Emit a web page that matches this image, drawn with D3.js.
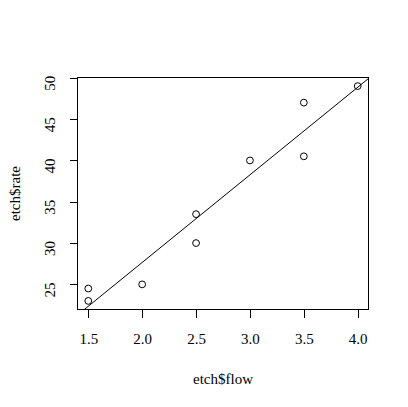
<!DOCTYPE html>
<html>
<head>
<meta charset="utf-8">
<script src="https://cdn.jsdelivr.net/npm/d3@7"></script>
<style>
  body { margin: 0; background: #fff; }
  text { font-family: "Liberation Serif", "Times New Roman", serif; fill: #000; }
</style>
</head>
<body>
<div id="plot"></div>
<script>
// etch data
const flow = [1.5, 1.5, 2.0, 2.5, 2.5, 3.0, 3.5, 3.5, 4.0];
const rate = [23.0, 24.5, 25.0, 30.0, 33.5, 40.0, 40.5, 47.0, 49.0];
const xTicks = [1.5, 2.0, 2.5, 3.0, 3.5, 4.0];
const yTicks = [25, 30, 35, 40, 45, 50];
const xLabel = "etch$flow";
const yLabel = "etch$rate";

let dimensions = {
    width: 408,
    height: 407,
    left: 77.5,
    right: 368.5,
    top: 77.5,
    bottom: 309.5,
};

const data = flow.map((f, i) => ({ flow: f, rate: rate[i] }));

// R style axis ranges: data range plus 4%
const padRange = (arr) => {
    const [lo, hi] = d3.extent(arr);
    const p = (hi - lo) * 0.04;
    return [lo - p, hi + p];
};

const xScale = d3.scaleLinear()
    .domain(padRange(flow))
    .range([dimensions.left, dimensions.right]);

const yScale = d3.scaleLinear()
    .domain(padRange(rate))
    .range([dimensions.bottom, dimensions.top]);

// least squares fit, like abline(lm(rate ~ flow))
const mx = d3.mean(flow);
const my = d3.mean(rate);
const slope = d3.sum(data, d => (d.flow - mx) * (d.rate - my)) / d3.sum(data, d => (d.flow - mx) ** 2);
const intercept = my - slope * mx;

const svg = d3.select("#plot")
    .append("svg")
    .attr("width", dimensions.width)
    .attr("height", dimensions.height);

svg.append("clipPath").attr("id", "clip")
    .append("rect")
    .attr("x", dimensions.left)
    .attr("y", dimensions.top)
    .attr("width", dimensions.right - dimensions.left)
    .attr("height", dimensions.bottom - dimensions.top);

// axes
const xAxis = d3.axisBottom(xScale)
    .tickValues(xTicks)
    .tickFormat(d3.format(".1f"))
    .tickSizeOuter(0)
    .tickSize(8)
    .tickPadding(16);

const yAxis = d3.axisLeft(yScale)
    .tickValues(yTicks)
    .tickFormat(d3.format("d"))
    .tickSizeOuter(0)
    .tickSize(8);

const gx = svg.append("g")
    .attr("transform", `translate(0, ${dimensions.bottom})`)
    .call(xAxis);
gx.select(".domain").remove();
gx.selectAll("line").attr("stroke", "#000").attr("shape-rendering", "crispEdges");
gx.selectAll("text").attr("font-size", 15).attr("font-family", "Liberation Serif");

const gy = svg.append("g")
    .attr("transform", `translate(${dimensions.left}, 0)`)
    .call(yAxis);
gy.select(".domain").remove();
gy.selectAll("line").attr("stroke", "#000").attr("shape-rendering", "crispEdges");
gy.selectAll("text")
    .attr("font-size", 15)
    .attr("font-family", "Liberation Serif")
    .attr("x", null)
    .attr("dy", null)
    .attr("text-anchor", "middle")
    .attr("transform", "translate(-23, 5) rotate(-90)");

// box
svg.append("rect")
    .attr("x", dimensions.left)
    .attr("y", dimensions.top)
    .attr("width", dimensions.right - dimensions.left)
    .attr("height", dimensions.bottom - dimensions.top)
    .attr("fill", "none")
    .attr("stroke", "#000")
    .attr("shape-rendering", "crispEdges");

// regression line
const xd = xScale.domain();
svg.append("line")
    .attr("clip-path", "url(#clip)")
    .attr("x1", xScale(xd[0]))
    .attr("y1", yScale(intercept + slope * xd[0]))
    .attr("x2", xScale(xd[1]))
    .attr("y2", yScale(intercept + slope * xd[1]))
    .attr("stroke", "#000")
    .attr("stroke-width", 1);

// points
svg.selectAll("circle")
    .data(data)
    .join("circle")
    .attr("cx", d => xScale(d.flow))
    .attr("cy", d => yScale(d.rate))
    .attr("r", 3.4)
    .attr("fill", "none")
    .attr("stroke", "#000")
    .attr("stroke-width", 1);

// axis titles
svg.append("text")
    .attr("x", (dimensions.left + dimensions.right) / 2)
    .attr("y", 384)
    .attr("text-anchor", "middle")
    .attr("font-size", 15)
    .text(xLabel);

svg.append("text")
    .attr("transform", `translate(20, ${(dimensions.top + dimensions.bottom) / 2}) rotate(-90)`)
    .attr("text-anchor", "middle")
    .attr("font-size", 15)
    .text(yLabel);
</script>
</body>
</html>
